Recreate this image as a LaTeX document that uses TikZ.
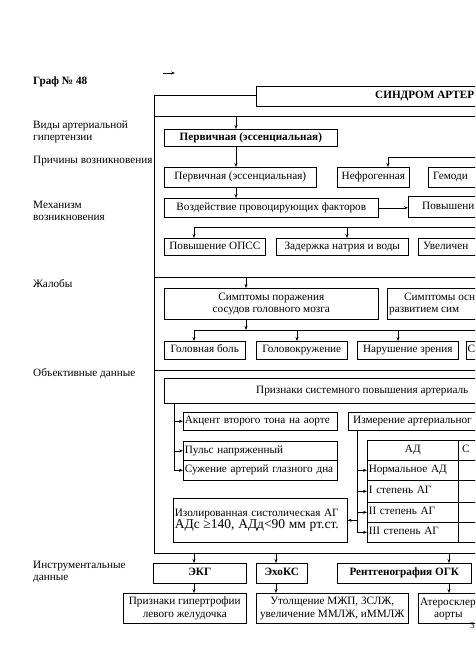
\documentclass[tikz,border=0pt]{standalone}
\usepackage{fontspec}
\setmainfont{Liberation Serif}
\usetikzlibrary{arrows.meta}
\newcommand\fs{\fontsize{11.2}{12.5}\selectfont}
\newcommand\fsbig{\fontsize{13.5}{15}\selectfont}
\begin{document}
\begin{tikzpicture}[x=1pt,y=-1pt]
\tikzset{
 bb/.style={draw=black, line width=0.6pt, inner sep=0pt, anchor=north west, font=\fs, fill=white, align=center},
 bx/.style={bb, text height=7.8pt, text depth=2.6pt},
 mbx/.style={bb},
 lbx/.style={bx, inner xsep=1.5pt, align=left},
 arr/.style={-{Stealth[length=4pt,width=3pt]}, line width=0.6pt},
 ln/.style={line width=0.6pt},
 lab/.style={anchor=west, font=\fs, align=left, inner sep=0pt},
 frag/.style={anchor=west, font=\fs, inner sep=0pt, text height=7.8pt, text depth=2.6pt},
 mfrag/.style={anchor=north west, font=\fs, inner sep=0pt, align=left},
}
\useasboundingbox (0,0) rectangle (475,671);
\clip (0,0) rectangle (475,671);
% left labels
\node[lab, font=\fs\bfseries] (graf) at (33,82) {Граф № 48};
\node[lab] (l1) at (33,132) {Виды артериальной\\гипертензии};
\node[lab] (l2) at (33,161) {Причины возникновения};
\node[lab] (l3) at (33,211) {Механизм\\возникновения};
\node[lab] (l4) at (33,284) {Жалобы};
\node[lab] (l5) at (33,374) {Объективные данные};
\node[lab] (l6) at (33,572) {Инструментальные\\данные};
% small arrow
\coordinate (sa1) at (163,73);
\coordinate (sa2) at (175,73);
\draw[arr] (sa1) -- (sa2);
% frame
\coordinate (fA) at (154,95);
\coordinate (fB) at (520,553);
\draw[ln] (fA) rectangle (fB);
\coordinate (s1a) at (154,116); \coordinate (s1b) at (520,116);
\coordinate (s2a) at (154,277); \coordinate (s2b) at (520,277);
\coordinate (s3a) at (154,370); \coordinate (s3b) at (520,370);
\draw[ln] (s1a) -- (s1b);
\draw[ln] (s2a) -- (s2b);
\draw[ln] (s3a) -- (s3b);
% title
\node[bx, minimum width=260pt, minimum height=20pt] (title) at (256,86) {};
\node[frag, font=\fontsize{11.2}{13}\selectfont\bfseries] (titlet) at (375,96) {СИНДРОМ АРТЕР};
% row 1
\node[bx, font=\fs\bfseries, minimum width=173pt, minimum height=17pt] (p1) at (164,129) {Первичная (эссенциальная)};
\node[bx, minimum width=152pt, minimum height=20pt] (p2) at (164,167) {Первичная (эссенциальная)};
\node[bx, minimum width=72pt, minimum height=20pt] (nef) at (337,167) {Нефрогенная};
\node[bx, minimum width=90pt, minimum height=20pt] (gem) at (428,167) {};
\node[frag] (gemt) at (433,177) {Гемоди};
\node[bx, minimum width=214pt, minimum height=19pt] (vozd) at (164,198) {Воздействие провоцирующих факторов};
\node[bx, minimum width=100pt, minimum height=21pt] (pov) at (408,196) {};
\node[frag] (povt) at (422,206.5) {Повышени};
\coordinate (t1) at (236,116);
\draw[arr] (t1) -- ([xshift=72pt]p1.north west);
\draw[arr] ([xshift=72pt]p1.south west) -- ([xshift=72pt]p2.north west);
\draw[arr] ([xshift=72pt]p2.south west) -- ([xshift=72pt]vozd.north west);
\draw[arr] (vozd.east) -- (vozd.east -| pov.west);
\coordinate (nefin) at (520,157);
\draw[arr] (nefin) -| ([xshift=51pt]nef.north west);
% row 2
\node[bx, minimum width=101pt, minimum height=17pt] (opss) at (164,238) {Повышение ОПСС};
\node[bx, minimum width=132pt, minimum height=17pt] (zad) at (276,238) {Задержка натрия и воды};
\node[bx, minimum width=100pt, minimum height=17pt] (uvel) at (418,238) {};
\node[frag] (uvelt) at (423,246.5) {Увеличен};
\coordinate (bus2) at (520,227);
\draw[arr] (bus2) -| ([xshift=30pt]opss.north west);
\draw[arr] ([xshift=71pt]zad.north west |- bus2) -- ([xshift=71pt]zad.north west);
% row 3
\node[mbx, minimum width=214pt, minimum height=31pt] (brain) at (164,288) {Симптомы поражения\\сосудов головного мозга};
\node[bx, minimum width=130pt, minimum height=31pt] (symp) at (387,288) {};
\node[mfrag] (sympt) at (389,292.5) {\hspace*{15pt}Симптомы осн\\развитием сим};
\coordinate (t3) at (246,277);
\draw[arr] (t3) -- ([xshift=82pt]brain.north west);
\coordinate (bus3) at (520,330);
\node[bx, minimum width=81pt, minimum height=18pt] (gol) at (164,341) {Головная боль};
\node[bx, minimum width=91pt, minimum height=18pt] (golk) at (256,341) {Головокружение};
\node[bx, minimum width=101pt, minimum height=18pt] (nar) at (357,341) {Нарушение зрения};
\node[bx, minimum width=50pt, minimum height=18pt] (cb) at (466,341) {};
\node[frag] (cbt) at (467.5,350) {С};
\draw[arr] ([xshift=82pt]brain.south west) -- ([xshift=82pt]brain.south west |- bus3);
\draw[arr] (bus3) -| ([xshift=30pt]gol.north west);
\draw[arr] ([xshift=41pt]golk.north west |- bus3) -- ([xshift=41pt]golk.north west);
\draw[arr] ([xshift=41pt]nar.north west |- bus3) -- ([xshift=41pt]nar.north west);
% row 4
\node[bx, minimum width=350pt, minimum height=25pt] (prizn) at (164,378) {};
\node[frag] (prizt) at (256,390.5) {Признаки системного повышения артериаль};
\node[lbx, text width=151pt, minimum height=18pt] (akc) at (183,412) {\mbox{Акцент второго тона на аорте}};
\node[lbx, text width=151pt, minimum height=19pt] (puls) at (183,441) {\mbox{Пульс напряженный}};
\node[lbx, text width=151pt, minimum height=20pt] (suzh) at (183,460) {\mbox{Сужение артерий глазного дна}};
\node[bx, minimum width=170pt, minimum height=18pt] (izm) at (348,412) {};
\node[frag] (izmt) at (353,421) {Измерение артериальног};
\node[bx, minimum width=91pt, minimum height=20pt] (hdr) at (367,440) {АД};
\node[lbx, text width=88pt, minimum height=20pt] (norm) at (367,460) {Нормальное АД};
\node[lbx, text width=88pt, minimum height=22pt] (st1) at (367,480) {I степень АГ};
\node[lbx, text width=88pt, minimum height=20pt] (st2) at (367,502) {II степень АГ};
\node[lbx, text width=88pt, minimum height=20pt] (st3) at (367,522) {III степень АГ};
\node[bx, minimum width=60pt, minimum height=20pt] (hdr2) at (458,440) {};
\node[frag] (hdr2t) at (462,450) {С};
\node[bx, minimum width=60pt, minimum height=20pt] (c2a) at (458,460) {};
\node[bx, minimum width=60pt, minimum height=22pt] (c2b) at (458,480) {};
\node[bx, minimum width=60pt, minimum height=20pt] (c2c) at (458,502) {};
\node[bx, minimum width=60pt, minimum height=20pt] (c2d) at (458,522) {};
\node[mbx, inner xsep=1.5pt, align=left, text width=171pt, minimum height=44pt] (izol) at (173,498) {Изолированная систолическая АГ\\{\fsbig АДс ≥140, АДд<90 мм рт.ст.}};
\draw[arr] ([xshift=10pt]prizn.south west) |- (akc.west);
\draw[arr] ([xshift=10pt]prizn.south west) |- (puls.west);
\draw[arr] ([xshift=10pt]prizn.south west) |- (suzh.west);
\draw[arr] ([xshift=9pt]izm.south west) |- (norm.west);
\draw[arr] ([xshift=9pt]izm.south west) |- (st1.west);
\draw[arr] ([xshift=9pt]izm.south west) |- (st2.west);
\draw[arr] ([xshift=9pt]izm.south west) |- (st3.west);
\draw[arr] ([xshift=9pt]izm.south west |- izol.east) -- (izol.east);
% row 5
\coordinate (b5) at (154,553);
\node[bx, font=\fs\bfseries, minimum width=93pt, minimum height=20pt] (ekg) at (153,563) {ЭКГ};
\node[bx, font=\fs\bfseries, minimum width=51pt, minimum height=20pt] (echo) at (256,563) {ЭхоКС};
\node[bx, font=\fs\bfseries, minimum width=134pt, minimum height=20pt] (rent) at (337,563) {Рентгенография ОГК};
\node[mbx, minimum width=123pt, minimum height=30pt] (gip) at (123,593) {Признаки гипертрофии\\левого желудочка};
\node[mbx, minimum width=152pt, minimum height=30pt] (utol) at (256,593) {Утолщение МЖП, ЗСЛЖ,\\увеличение ММЛЖ, иММЛЖ};
\node[bx, minimum width=90pt, minimum height=30pt] (ater) at (418,593) {};
\node[frag] (atert1) at (420,603) {Атеросклер};
\node[frag] (atert2) at (434,615) {аорты};
\draw[arr] ([xshift=41pt]ekg.north west |- b5) -- ([xshift=41pt]ekg.north west);
\draw[arr] ([xshift=20pt]echo.north west |- b5) -- ([xshift=20pt]echo.north west);
\draw[arr] ([xshift=112pt]rent.north west |- b5) -- ([xshift=112pt]rent.north west);
\draw[arr] ([xshift=41pt]ekg.south west) -- ([xshift=71pt]gip.north west);
\draw[arr] ([xshift=20pt]echo.south west) -- ([xshift=20pt]utol.north west);
\draw[arr] ([xshift=112pt]rent.south west) -- ([xshift=31pt]ater.north west);
\node[frag, font=\fontsize{9}{10}\selectfont] (pg) at (470,626) {3};
\end{tikzpicture}
\end{document}
